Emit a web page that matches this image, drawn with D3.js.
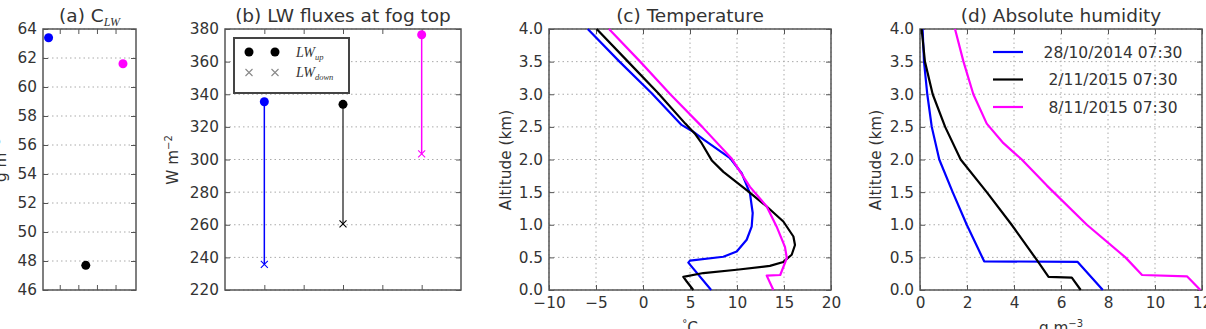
<!DOCTYPE html>
<html>
<head>
<meta charset="utf-8">
<script src="https://cdn.jsdelivr.net/npm/d3@7"></script>
<style>
  html, body { margin: 0; padding: 0; background: #fff; }
  svg { display: block; }
</style>
</head>
<body>
<svg id="chart" width="1206" height="329" font-family="DejaVu Sans, sans-serif"></svg>
<script>
// ---------------- DATA ----------------
const cases = ["28/10/2014 07:30", "2/11/2015 07:30", "8/11/2015 07:30"];
const caseColors = ["#0000ff", "#000000", "#ff00ff"];
const caseX = [1, 2, 3];

// (a) C_LW (g m^-3)
const cLW = [63.4, 47.7, 61.6];
const aYTicks = [46, 48, 50, 52, 54, 56, 58, 60, 62, 64];
const aXTicks = [1.3, 1.8, 2.3, 2.8];

// (b) LW fluxes at fog top (W m^-2)
const lwUp = [335.4, 333.8, 376.5];
const lwDown = [235.7, 260.5, 303.4];
const bYTicks = [220, 240, 260, 280, 300, 320, 340, 360, 380];
const bXTicks = [1, 1.5, 2, 2.5, 3];

// (c) Temperature profiles: [T (°C), altitude (km)]
const tempBlue = [[-5.88,4.0],[-2.5,3.5],[0.9,3.02],[4.1,2.53],[5.3,2.43],[6.5,2.3],[9.26,2.02],[10.5,1.79],[11.38,1.48],[11.67,1.18],[11.56,0.97],[11.03,0.77],[9.97,0.59],[8.55,0.51],[5.0,0.45],[4.82,0.42],[7.25,0.0]];
const tempBlack = [[-4.93,4.0],[-1.6,3.5],[1.6,3.02],[4.5,2.55],[5.5,2.4],[6.24,2.25],[7.3,1.99],[8.55,1.81],[11.03,1.53],[13.16,1.28],[14.93,1.05],[16.0,0.82],[16.17,0.69],[15.82,0.54],[14.93,0.43],[13.5,0.37],[9.97,0.31],[6.42,0.26],[4.29,0.2],[4.65,0.13],[5.35,0.0]];
const tempMagenta = [[-3.62,4.0],[-0.3,3.5],[2.9,3.0],[6.3,2.5],[9.4,2.02],[11.38,1.58],[13.16,1.28],[14.22,0.97],[15.1,0.66],[15.3,0.49],[14.6,0.23],[13.16,0.22],[13.87,0.0]];

// (d) Absolute humidity profiles: [q (g m^-3), altitude (km)]
const humBlue = [[0.11,4.0],[0.17,3.5],[0.31,3.0],[0.5,2.5],[0.82,2.0],[1.39,1.5],[1.99,1.0],[2.73,0.44],[6.71,0.43],[7.78,0.0]];
const humBlack = [[0.07,4.0],[0.21,3.5],[0.54,3.0],[1.07,2.5],[1.73,2.0],[2.84,1.5],[3.9,1.0],[4.97,0.46],[5.47,0.2],[6.46,0.19],[6.84,0.0]];
const humMagenta = [[1.49,4.0],[1.85,3.5],[2.27,3.0],[2.84,2.55],[3.55,2.25],[4.33,2.0],[5.4,1.6],[7.1,1.0],[8.74,0.5],[9.45,0.23],[11.36,0.21],[11.93,0.0]];

const cXTicks = [-10, -5, 0, 5, 10, 15, 20];
const dXTicks = [0, 2, 4, 6, 8, 10, 12];
const altTicks = [0, 0.5, 1, 1.5, 2, 2.5, 3, 3.5, 4];

// ---------------- LAYOUT ----------------
const svg = d3.select("#chart");
const topY = 29, botY = 290;
const spine = "#555", gridCol = "#aaa", txt = "#333";
const tickFont = 15.3, titleFont = 18.5;
const SANS = "DejaVu Sans", SERIF = "Liberation Serif";

function panel(o) {
  const g = svg.append("g");
  const x = d3.scaleLinear().domain(o.xDomain).range([o.left, o.right]);
  const y = d3.scaleLinear().domain(o.yDomain).range([botY, topY]);
  if (o.xGrid) {
    g.selectAll(null).data(o.xTicks).enter().append("line")
      .attr("x1", d => x(d)).attr("x2", d => x(d)).attr("y1", topY).attr("y2", botY)
      .attr("stroke", gridCol).attr("stroke-width", 1).attr("stroke-dasharray", "1.5,3");
  }
  g.selectAll(null).data(o.yTicks).enter().append("line")
    .attr("x1", o.left).attr("x2", o.right).attr("y1", d => y(d)).attr("y2", d => y(d))
    .attr("stroke", gridCol).attr("stroke-width", 1).attr("stroke-dasharray", "1.5,3");
  const tl = 5;
  const axB = g.append("g").attr("transform", `translate(0,${botY})`)
    .call(d3.axisBottom(x).tickValues(o.xTicks).tickSize(-tl).tickPadding(7).tickFormat(o.xLabels ? o.xFormat : ""));
  const axT = g.append("g").attr("transform", `translate(0,${topY})`)
    .call(d3.axisTop(x).tickValues(o.xTicks).tickSize(-tl).tickFormat(""));
  const axL = g.append("g").attr("transform", `translate(${o.left},0)`)
    .call(d3.axisLeft(y).tickValues(o.yTicks).tickSize(-tl).tickPadding(6).tickFormat(o.yFormat));
  const axR = g.append("g").attr("transform", `translate(${o.right},0)`)
    .call(d3.axisRight(y).tickValues(o.yTicks).tickSize(-tl).tickFormat(""));
  [axB, axT, axL, axR].forEach(a => {
    a.select(".domain").remove();
    a.selectAll(".tick line").attr("stroke", spine).attr("stroke-width", 1);
    a.selectAll(".tick text").style("font-family", SANS).style("font-size", tickFont + "px").style("fill", txt);
  });
  g.append("rect").attr("x", o.left).attr("y", topY).attr("width", o.right - o.left).attr("height", botY - topY)
    .attr("fill", "none").attr("stroke", spine).attr("stroke-width", 1.5);
  const cid = "clip" + o.id;
  svg.append("clipPath").attr("id", cid).append("rect")
    .attr("x", o.left).attr("y", topY - 6).attr("width", o.right - o.left).attr("height", botY - topY + 12);
  const plot = g.append("g").attr("clip-path", `url(#${cid})`);
  const t = g.append("text").attr("x", (o.left + o.right) / 2).attr("y", 21.5)
    .attr("text-anchor", "middle").style("font-family", SANS).style("font-size", titleFont + "px").style("fill", txt);
  o.title(t);
  return {g, x, y, plot};
}

function label(tx, ty, rot) {
  return svg.append("text").attr("transform", `translate(${tx},${ty})` + (rot ? " rotate(-90)" : ""))
    .attr("text-anchor", "middle").style("font-family", SANS).style("font-size", tickFont + "px").style("fill", txt);
}

// (a)
const A = panel({id: "a", left: 43, right: 136, xDomain: [0.85, 3.35], yDomain: [46, 64],
  xTicks: aXTicks, yTicks: aYTicks, xGrid: false, xLabels: false, yFormat: d3.format("d"),
  title: t => { t.append("tspan").text("(a) C");
    t.append("tspan").style("font-family", SERIF).style("font-style", "italic")
      .style("font-size", "12px").attr("dy", 4).text("LW"); }});
A.plot.selectAll(null).data(cLW).enter().append("circle")
  .attr("cx", (d, i) => A.x(caseX[i])).attr("cy", d => A.y(d)).attr("r", 4.5)
  .attr("fill", (d, i) => caseColors[i]);
const aLab = label(6, 160, true);
aLab.append("tspan").text("g m");
aLab.append("tspan").style("font-size", "10px").attr("dy", -6).text("−3");

// (b)
const B = panel({id: "b", left: 225, right: 461, xDomain: [0.5, 3.5], yDomain: [220, 380],
  xTicks: bXTicks, yTicks: bYTicks, xGrid: false, xLabels: false, yFormat: d3.format("d"),
  title: t => t.text("(b) LW fluxes at fog top")});
caseX.forEach((cx, i) => {
  B.plot.append("line").attr("x1", B.x(cx)).attr("x2", B.x(cx))
    .attr("y1", B.y(lwUp[i])).attr("y2", B.y(lwDown[i]))
    .attr("stroke", i === 1 ? "#444" : caseColors[i]).attr("stroke-width", 1.5);
});
const xMark = (sel, cx, cy, col, s) => {
  sel.append("path").attr("d", `M${cx - s},${cy - s}L${cx + s},${cy + s}M${cx - s},${cy + s}L${cx + s},${cy - s}`)
    .attr("stroke", col).attr("stroke-width", 1.1).attr("fill", "none");
};
B.plot.selectAll(null).data(lwUp).enter().append("circle")
  .attr("cx", (d, i) => B.x(caseX[i])).attr("cy", d => B.y(d)).attr("r", 4.5)
  .attr("fill", (d, i) => caseColors[i]);
lwDown.forEach((d, i) => xMark(B.plot, B.x(caseX[i]), B.y(d), caseColors[i], 3.5));
const lg = B.g.append("g");
lg.append("rect").attr("x", 234).attr("y", 38).attr("width", 115).attr("height", 55)
  .attr("fill", "#fff").attr("stroke", "#444").attr("stroke-width", 2);
[249, 275].forEach(px => {
  lg.append("circle").attr("cx", px).attr("cy", 52).attr("r", 4.5).attr("fill", "#000");
  xMark(lg, px, 72.5, "#888", 3.5);
});
const legLab = (yb, sub) => {
  const t = lg.append("text").attr("x", 296).attr("y", yb)
    .style("font-family", SERIF).style("font-style", "italic").style("font-size", "14px").style("fill", txt);
  t.append("tspan").text("LW");
  t.append("tspan").style("font-size", "8.5px").attr("dy", 3).text(sub);
};
legLab(57, "up");
legLab(77, "down");
const bLab = label(178, 160, true);
bLab.append("tspan").text("W m");
bLab.append("tspan").style("font-size", "10px").attr("dy", -6).text("−2");

// (c)
const C = panel({id: "c", left: 549, right: 831, xDomain: [-10, 20], yDomain: [0, 4],
  xTicks: cXTicks, yTicks: altTicks, xGrid: true, xLabels: true, xFormat: d3.format("d"), yFormat: d3.format(".1f"),
  title: t => t.text("(c) Temperature")});
const lineC = d3.line().x(d => C.x(d[0])).y(d => C.y(d[1]));
[tempBlue, tempBlack, tempMagenta].forEach((s, i) => {
  C.plot.append("path").attr("d", lineC(s)).attr("fill", "none")
    .attr("stroke", caseColors[i]).attr("stroke-width", 2.2).attr("stroke-linejoin", "round");
});
label(511, 160, true).text("Altitude (km)");
const cX = label(690, 333, false);
cX.append("tspan").style("font-size", "10px").attr("dy", -6).text("°");
cX.append("tspan").attr("dy", 6).text("C");

// (d)
const D = panel({id: "d", left: 920, right: 1202, xDomain: [0, 12], yDomain: [0, 4],
  xTicks: dXTicks, yTicks: altTicks, xGrid: true, xLabels: true, xFormat: d3.format("d"), yFormat: d3.format(".1f"),
  title: t => t.text("(d) Absolute humidity")});
const lineD = d3.line().x(d => D.x(d[0])).y(d => D.y(d[1]));
[humBlue, humBlack, humMagenta].forEach((s, i) => {
  D.plot.append("path").attr("d", lineD(s)).attr("fill", "none")
    .attr("stroke", caseColors[i]).attr("stroke-width", 2.2).attr("stroke-linejoin", "round");
});
label(881, 160, true).text("Altitude (km)");
const dX = label(1061, 333, false);
dX.append("tspan").text("g m");
dX.append("tspan").style("font-size", "10px").attr("dy", -6).text("−3");
const lgd = D.g.append("g");
cases.forEach((c, i) => {
  const yy = 52 + i * 27.5;
  lgd.append("line").attr("x1", 993).attr("x2", 1023).attr("y1", yy).attr("y2", yy)
    .attr("stroke", caseColors[i]).attr("stroke-width", 2.2);
  lgd.append("text").attr("x", 1113).attr("y", yy + 5.5).attr("text-anchor", "middle")
    .style("font-family", SANS).style("font-size", "15.5px").style("fill", txt).text(c);
});
</script>
</body>
</html>
